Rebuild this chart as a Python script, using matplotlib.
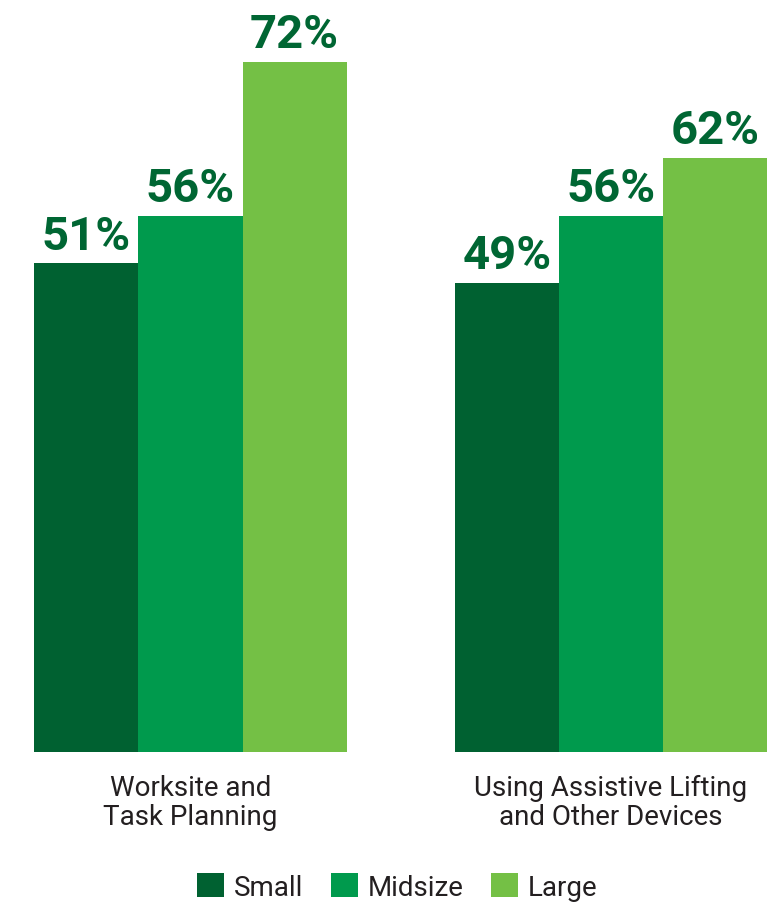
import numpy as np
import matplotlib
matplotlib.use("Agg")
import matplotlib.pyplot as plt

categories = ["Worksite and\nTask Planning", "Using Assistive Lifting\nand Other Devices"]
series = ["Small", "Midsize", "Large"]
small = [51, 49]
midsize = [56, 56]
large = [72, 62]
colors = ["#006131", "#009a4d", "#74c045"]
labelColor = "#006633"
textColor = "#231f20"

fig = plt.figure(figsize=(7.82, 9.03), dpi=100)
ax = fig.add_axes([0, 150 / 903, 1, 753 / 903])

x = np.arange(len(categories))
width = 0.2475
values = [small, midsize, large]
bars = []
for i, (name, vals) in enumerate(zip(series, values)):
    b = ax.bar(x + (i - 1) * width, vals, width, color=colors[i], label=name)
    bars.append(b)
    for rect, v in zip(b, vals):
        ax.text(rect.get_x() + rect.get_width() / 2, v + 0.6, "%d%%" % v,
                ha="center", va="bottom", fontsize=34, fontweight="bold",
                color=labelColor, family="Roboto")

ax.set_xlim(-190.5 / 420.5, (782 - 190.5) / 420.5)
ax.set_ylim(0, 78.6)
ax.set_xticks(x)
ax.set_xticklabels(categories, fontsize=20, color=textColor, family="Roboto",
                   linespacing=1.1)
ax.tick_params(axis="x", length=0, pad=16)
ax.set_yticks([])
for s in ax.spines.values():
    s.set_visible(False)

fig.legend(handles=bars, labels=series, loc="center", bbox_to_anchor=(397 / 782, 15 / 903),
           ncol=3, frameon=False, prop={"family": "Roboto", "size": 20},
           handlelength=0.97, handleheight=0.97, handletextpad=0.35,
           columnspacing=1.0, labelcolor=textColor, borderpad=0, borderaxespad=0)

fig.savefig("out.png", dpi=100)
